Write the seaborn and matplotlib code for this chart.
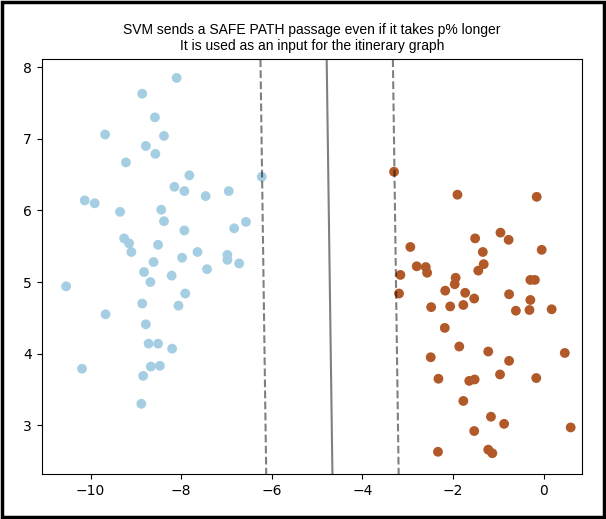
import numpy as np
import pandas as pd
import matplotlib
matplotlib.use("Agg")
import matplotlib.pyplot as plt
import seaborn as sns
from matplotlib.patches import Rectangle

# ---- data ----
blue_x = [-8.10, -8.86, -8.58, -9.68, -8.38, -8.78, -8.57, -9.22, -7.82, -6.22,
          -8.15, -7.93, -6.95, -7.46, -10.13, -9.91, -9.35, -8.44, -8.38, -6.57,
          -6.83, -7.93, -9.26, -9.15, -9.10, -8.51, -7.64, -7.98, -6.98, -6.98,
          -6.72, -8.61, -8.82, -8.21, -7.43, -10.54, -8.68, -7.91, -8.86, -8.06,
          -9.67, -8.78, -8.72, -8.51, -8.20, -10.19, -8.67, -8.47, -8.84, -8.88]
blue_y = [7.85, 7.63, 7.30, 7.06, 7.04, 6.90, 6.79, 6.67, 6.49, 6.47,
          6.33, 6.27, 6.27, 6.20, 6.14, 6.10, 5.98, 6.01, 5.85, 5.84,
          5.75, 5.72, 5.61, 5.54, 5.42, 5.52, 5.42, 5.34, 5.38, 5.31,
          5.26, 5.28, 5.14, 5.09, 5.18, 4.94, 5.00, 4.84, 4.70, 4.67,
          4.55, 4.41, 4.14, 4.14, 4.07, 3.79, 3.82, 3.83, 3.69, 3.30]
brown_x = [-3.30, -1.90, -0.15, -0.95, -1.51, -0.77, -2.94, -0.04, -1.34, -2.80,
           -2.60, -1.32, -1.44, -2.57, -3.16, -1.94, -0.29, -0.19, -1.96, -2.17,
           -1.73, -3.19, -0.76, -1.53, -0.29, -2.48, -2.06, -1.77, -0.61, -0.31,
           0.18, -2.18, -1.86, -1.22, 0.47, -2.49, -0.76, -2.32, -1.64, -1.52,
           -0.96, -0.16, -1.77, -1.16, -0.87, 0.60, -1.53, -2.33, -1.22, -1.13]
brown_y = [6.54, 6.22, 6.19, 5.69, 5.61, 5.59, 5.49, 5.45, 5.42, 5.22,
           5.21, 5.25, 5.16, 5.13, 5.10, 5.06, 5.03, 5.03, 4.97, 4.88,
           4.85, 4.84, 4.83, 4.77, 4.75, 4.65, 4.66, 4.68, 4.60, 4.61,
           4.62, 4.36, 4.10, 4.03, 4.01, 3.95, 3.90, 3.65, 3.62, 3.64,
           3.71, 3.66, 3.34, 3.12, 3.02, 2.97, 2.92, 2.63, 2.66, 2.61]

# linear SVM decision function f = w . (x, y) + b
svm_w = [0.684, 0.015]
svm_b = 3.153
margin_levels = [-1, 0, 1]

title_text = ("SVM sends a SAFE PATH passage even if it takes p% longer\n"
              "It is used as an input for the itinerary graph")

df = pd.DataFrame({
    "x": blue_x + brown_x,
    "y": blue_y + brown_y,
    "cls": ["0"] * len(blue_x) + ["1"] * len(brown_x),
})

fig = plt.figure(figsize=(6.06, 5.19), dpi=100)
ax = fig.add_axes([0.0688, 0.0867, 0.8916, 0.799])

sns.scatterplot(data=df, x="x", y="y", hue="cls",
                palette={"0": "#a6cee3", "1": "#b15928"},
                s=50, edgecolor="none", linewidth=0, legend=False, ax=ax)

ax.set_xlim(-11.08, 0.85)
ax.set_ylim(2.32, 8.11)

xx = np.linspace(-11.08, 0.85, 60)
yy = np.linspace(2.32, 8.11, 60)
XX, YY = np.meshgrid(xx, yy)
Z = svm_w[0] * XX + svm_w[1] * YY + svm_b
ax.contour(XX, YY, Z, colors="k", levels=margin_levels, alpha=0.5,
           linestyles=["--", "-", "--"], linewidths=1.5)

ax.set_xlabel("")
ax.set_ylabel("")
ax.set_xticks([-10, -8, -6, -4, -2, 0])
ax.set_yticks([3, 4, 5, 6, 7, 8])
ax.tick_params(labelsize=10)
ax.set_title(title_text, fontsize=10, family=["Liberation Sans", "DejaVu Sans"],
             pad=7, linespacing=1.15)

fig.add_artist(Rectangle((0.003, 0.004), 0.993, 0.992, transform=fig.transFigure,
                         fill=False, edgecolor="black", linewidth=2.5))

fig.savefig("out.png", dpi=100)
